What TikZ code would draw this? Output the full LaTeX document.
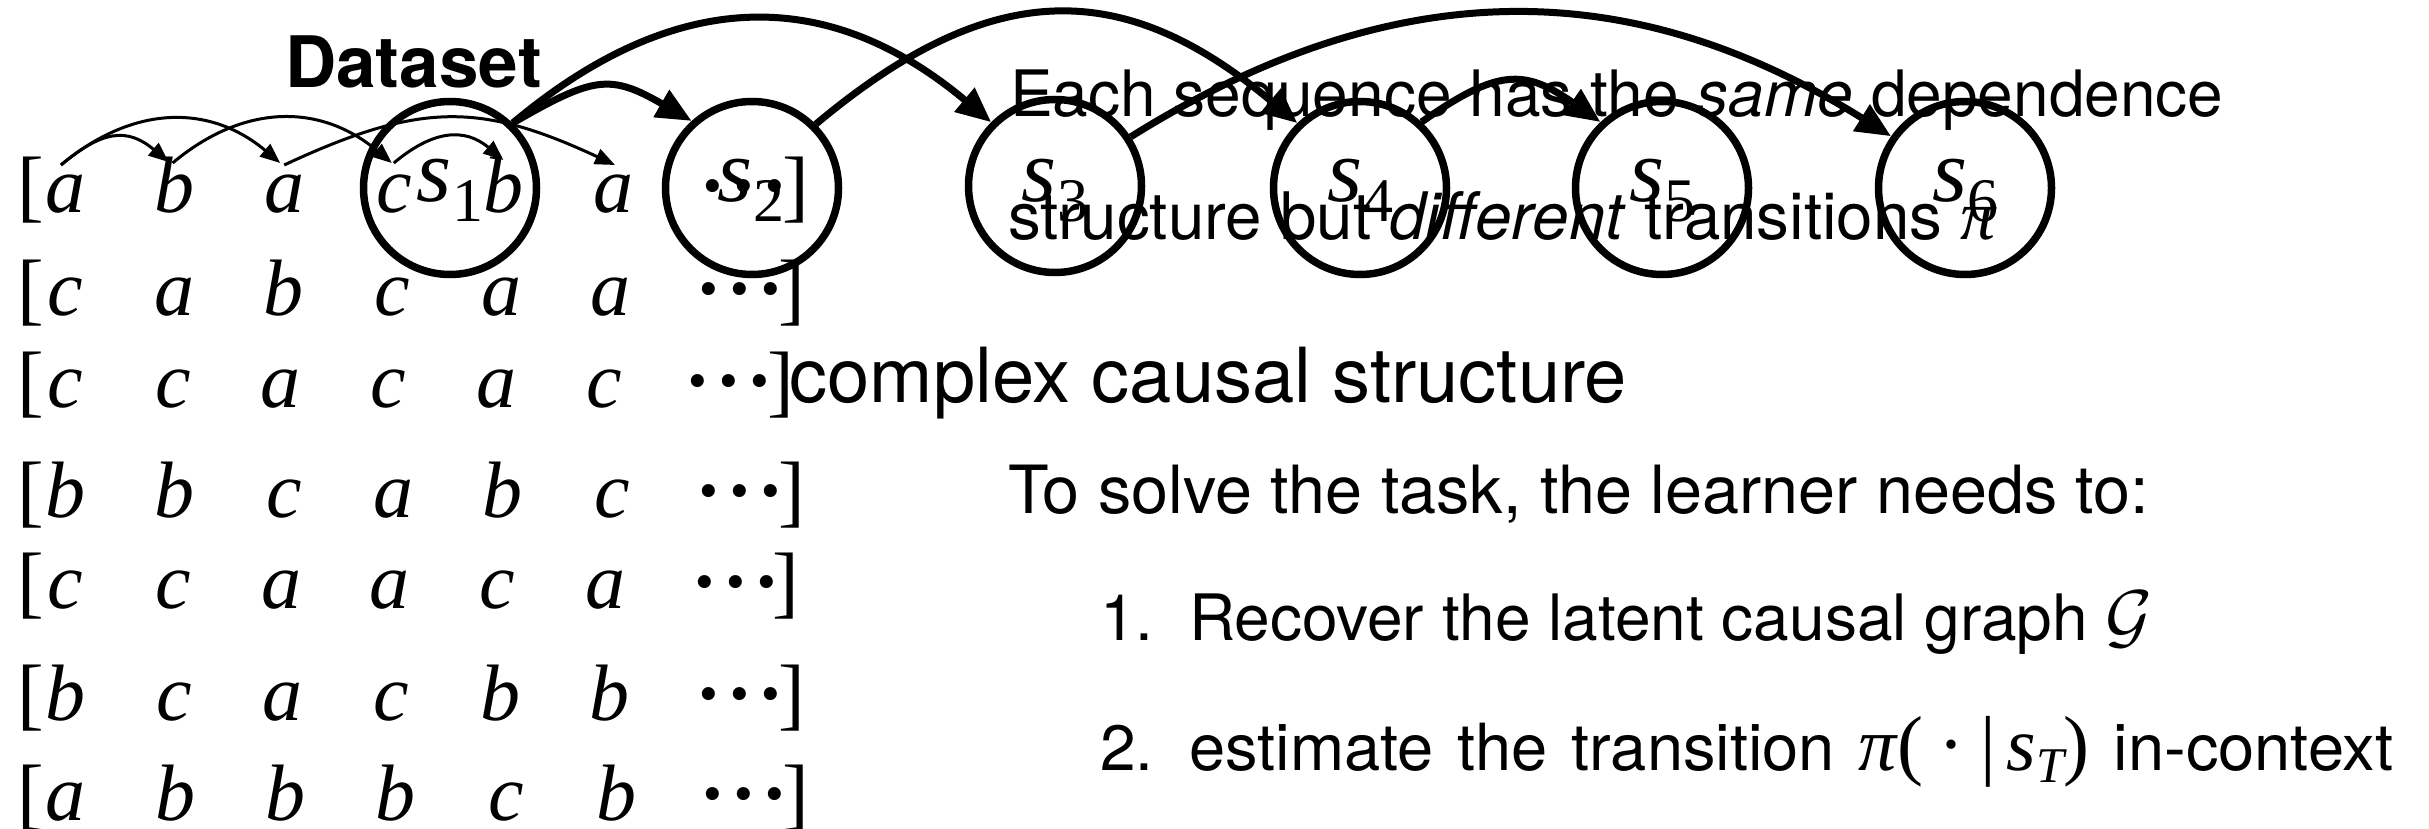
\documentclass[tikz,border=0pt]{standalone}
\usepackage{fontspec}
\setmainfont{TeX Gyre Heros}
\newfontfamily\tms{Liberation Serif}
\usetikzlibrary{arrows.meta}

% state label: italic s with an upright subscript
\newcommand\stlabel[2]{{\fontsize{90}{90}\selectfont\tms\itshape #1}\raisebox{-20pt}{\fontsize{62}{62}\selectfont\tms #2}}
% serif math-like pieces
\newcommand\mi[1]{{\fontsize{76}{76}\selectfont\tms\itshape #1}}
\newcommand\mr[1]{{\fontsize{78}{78}\selectfont\tms #1}}
% three centred dots
\newcommand\seqdots{{\bfseries ·\kern4pt·\kern4pt·}}

\begin{document}
\begin{tikzpicture}[x=1pt,y=1pt,
  tok/.style={anchor=base, inner sep=0pt, font=\fontsize{80}{80}\selectfont\tms\itshape},
  brk/.style={anchor=base, inner sep=0pt, font=\fontsize{80}{80}\selectfont\tms},
  state/.style={circle, draw, line width=7.5pt, minimum size=173pt, inner sep=0pt},
  slab/.style={anchor=base, inner sep=0pt},
  txt/.style={anchor=base west, inner sep=0pt, font=\fontsize{64}{64}\selectfont},
  seqarrow/.style={line width=3pt, -{Triangle[length=20pt,width=16pt]}},
  statearrow/.style={line width=7pt, -{Triangle[length=35pt,width=30pt]}}]

\fill[white] (0,0) rectangle (2429,-829);
\useasboundingbox (0,0) rectangle (2429,-829);

% the sequences of the dataset
\foreach \r/\y/\d/\dx/\bx/\seq in {
  1/213/109.6/744/796/{a,b,a,c,b,a},
  2/315/109/740/792/{c,a,b,c,a,a},
  3/407/107.8/729/781/{c,c,a,c,a,c},
  4/517/109.4/740/792/{b,b,c,a,b,c},
  5/608/108/736/786/{c,c,a,a,c,a},
  6/720/108.8/740/792/{b,c,a,c,b,b},
  7/820/110.2/744/796/{a,b,b,b,c,b}}
{
  \node[brk] (lb\r) at (31,-\y) {[};
  \foreach \c [count=\i] in \seq {
    \node[tok] (r\r-\i) at ({65+(\i-1)*\d},-\y) {\c};
  }
  \node[brk] (dots\r) at (\dx,-\y) {\seqdots};
  \node[brk] (rb\r) at (\bx,-\y) {]};
}

% title
\node[anchor=base west, inner sep=0pt, font=\fontsize{71}{71}\selectfont\bfseries] (title) at (285,-88) {Dataset};

% latent states
\node[state] (s1) at (450,-188) {};
\node[state] (s2) at (752,-188) {};
\node[state] (s3) at (1055,-186) {};
\node[state] (s4) at (1360,-188) {};
\node[state] (s5) at (1662,-188) {};
\node[state] (s6) at (1965,-188) {};
\node[slab] (l1) at (450,-202) {\stlabel{s}{1}};
\node[slab] (l2) at (751,-202) {\stlabel{s}{2}};
\node[slab] (l3) at (1055,-202) {\stlabel{s}{3}};
\node[slab] (l4) at (1360,-202) {\stlabel{s}{4}};
\node[slab] (l5) at (1662,-202) {\stlabel{s}{5}};
\node[slab] (l6) at (1965,-202) {\stlabel{s}{6}};

% dependencies inside the first sequence
\draw[seqarrow] ([shift={(-4,48)}]r1-1.base) .. controls +(40:54) and +(140:54) .. ([shift={(-6,51)}]r1-2.base);
\draw[seqarrow] ([shift={(-4,48)}]r1-1.base) .. controls +(40:93) and +(140:93) .. ([shift={(-4,50)}]r1-3.base);
\draw[seqarrow] ([shift={(-2,50)}]r1-2.base) .. controls +(40:93) and +(140:93) .. ([shift={(-2,50)}]r1-4.base);
\draw[seqarrow] ([shift={(0,48)}]r1-3.base) .. controls +(25:149) and +(155:149) .. ([shift={(2,48)}]r1-6.base);
\draw[seqarrow] ([shift={(0,50)}]r1-4.base) .. controls +(40:51) and +(140:51) .. ([shift={(0,53)}]r1-5.base);

% dependencies between latent states
\draw[statearrow] (s1.46) .. controls +(30:94) and +(150:94) .. (s2.132);
\draw[statearrow] (s1.46) .. controls +(40:213) and +(140:213) .. (s3.135);
\draw[statearrow] (s2.45) .. controls +(40:228) and +(140:228) .. (s4.134);
\draw[statearrow] (s3.33) .. controls +(32:309) and +(148:309) .. (s6.145);
\draw[statearrow] (s4.47) .. controls +(35:93) and +(145:93) .. (s5.133);

% explanations
\node[txt] (note1) at (1010,-117) {Each sequence has the \textit{same} dependence};
\node[txt, font=\fontsize{65.5}{65.5}\selectfont] (note2) at (1008,-240) {structure but \textit{different} transitions {\fontsize{70}{70}\selectfont\tms\itshape π}};
\node[anchor=base west, inner sep=0pt, font=\fontsize{76}{76}\selectfont] (cplx) at (789,-402) {complex causal structure};
\node[txt, font=\fontsize{66.5}{66.5}\selectfont] (task) at (1008,-513) {To solve the task, the learner needs to:};
\node[txt] (n1) at (1100,-640) {1.};
\node[txt] (i1) at (1189,-640) {Recover the latent causal graph \scalebox{7.2}{\fontsize{10}{12}\selectfont$\mathcal{G}$}};
\node[txt] (n2) at (1100,-770) {2.};
\node[txt, font=\fontsize{65}{65}\selectfont] (i2) at (1189,-770) {\spaceskip=24pt estimate the transition \mi{π}\mr{(}\kern16pt\mr{·}\kern16pt\mr{|}\kern10pt\mi{s}\raisebox{-12pt}{\fontsize{50}{50}\selectfont\tms\itshape T}\mr{)} in-context};
\end{tikzpicture}
\end{document}
